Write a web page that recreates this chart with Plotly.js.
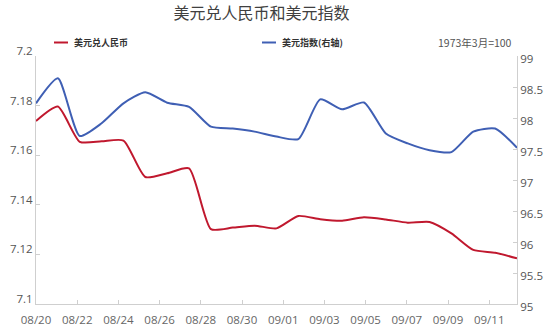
<!DOCTYPE html>
<html>
<head>
<meta charset="utf-8">
<script src="https://cdn.plot.ly/plotly-3.0.1.min.js"></script>
<style>html,body{margin:0;padding:0;background:#fff;}#chart{width:554px;height:330px;}</style>
</head>
<body>
<div id="chart"></div>
<script>
// Data (calendar days 2025-08-20 .. 2025-09-11)
const dates = ['2025-08-20','2025-08-21','2025-08-22','2025-08-23','2025-08-24','2025-08-25','2025-08-26','2025-08-27','2025-08-28','2025-08-29','2025-08-30','2025-08-31','2025-09-01','2025-09-02','2025-09-03','2025-09-04','2025-09-05','2025-09-06','2025-09-07','2025-09-08','2025-09-09','2025-09-10','2025-09-11'];
const usdcny = [7.1738,7.1796,7.1654,7.1656,7.1659,7.1512,7.1527,7.1547,7.1302,7.1308,7.1316,7.1305,7.1355,7.1342,7.1336,7.1350,7.1341,7.1328,7.1331,7.1285,7.1218,7.1207,7.1184];
const dxy = [98.237,98.64,97.71,97.915,98.237,98.415,98.247,98.18,97.86,97.83,97.78,97.70,97.66,98.30,98.14,98.25,97.75,97.59,97.48,97.45,97.78,97.83,97.52];
const xTickLabels = ['08/20','08/22','08/24','08/26','08/28','08/30','09/01','09/03','09/05','09/07','09/09','09/11'];
const yLeftTicks = [7.1,7.12,7.14,7.16,7.18,7.2];
const yLeftText = ['7.1','7.12','7.14','7.16','7.18','7.2'];
const yRightTicks = [95,95.5,96,96.5,97,97.5,98,98.5,99];
const yRightText = ['95','95.5','96','96.5','97','97.5','98','98.5','99'];
const titleText = '美元兑人民币和美元指数';
const seriesNames = ['美元兑人民币','美元指数(右轴)'];
const baseNote = '1973年3月=100';

const RED = '#c0182e', BLUE = '#3f5fb4';
const W = 554, H = 330, L = 36, R = 37, T = 56, B = 26;
const pw = W - L - R, ph = H - T - B;
const px = x => (x - L) / pw;
const py = y => (H - B - y) / ph;

// tick label positions: labels spaced 41.2px apart starting at the left edge
const t0 = new Date(dates[0] + 'T00:00:00Z').getTime();
const t1 = new Date(dates[dates.length-1] + 'T00:00:00Z').getTime();
const msPerPx = (t1 - t0) / pw;
const tickVals = xTickLabels.map((s, i) => new Date(t0 + i * 41.2 * msPerPx).toISOString());

const font = '"Open Sans", "Noto Sans CJK SC", sans-serif';

const traces = [
  {x: dates, y: usdcny, type: 'scatter', mode: 'lines', name: seriesNames[0], yaxis: 'y',
   line: {color: RED, width: 2, shape: 'spline', smoothing: 0.6}, showlegend: false, hoverinfo: 'skip'},
  {x: dates, y: dxy, type: 'scatter', mode: 'lines', name: seriesNames[1], yaxis: 'y2',
   line: {color: BLUE, width: 2, shape: 'spline', smoothing: 0.6}, showlegend: false, hoverinfo: 'skip'}
];

const layout = {
  width: W, height: H,
  margin: {l: L, r: R, t: T, b: B, pad: 0},
  paper_bgcolor: '#fff', plot_bgcolor: '#fff',
  font: {family: font, size: 11, color: '#555'},
  title: {text: titleText, x: 261.5 / W, xref: 'container', xanchor: 'center', y: 1 - 13 / H, yref: 'container', yanchor: 'middle',
          font: {family: '"Noto Sans CJK SC", sans-serif', size: 16, color: '#404040'}},
  xaxis: {type: 'date', range: [dates[0], dates[dates.length-1]], tickmode: 'array', tickvals: tickVals, ticktext: xTickLabels,
          showgrid: false, zeroline: false, showline: true, linecolor: '#cfcfcf', linewidth: 1,
          ticks: 'inside', ticklen: 4, tickcolor: '#cfcfcf', tickfont: {size: 11.5, color: '#666'}, ticklabelstandoff: 5},
  yaxis: {range: [7.1, 7.2], tickmode: 'array', tickvals: yLeftTicks, ticktext: yLeftText,
          showgrid: false, zeroline: false, showline: true, linecolor: '#cfcfcf', linewidth: 1,
          ticks: 'inside', ticklen: 4, tickcolor: '#cfcfcf', tickfont: {size: 11.5, color: '#555'}, ticklabelshift: -5},
  yaxis2: {range: [95, 99], overlaying: 'y', side: 'right', tickmode: 'array', tickvals: yRightTicks, ticktext: yRightText,
          showgrid: false, zeroline: false, showline: true, linecolor: '#cfcfcf', linewidth: 1,
          ticks: 'inside', ticklen: 4, tickcolor: '#cfcfcf', tickfont: {size: 11.5, color: '#555'}, ticklabelshift: 3},
  shapes: [
    {type: 'line', xref: 'paper', yref: 'paper', x0: px(54), x1: px(68), y0: py(42.5), y1: py(42.5), line: {color: RED, width: 2}},
    {type: 'line', xref: 'paper', yref: 'paper', x0: px(262), x1: px(276), y0: py(42.5), y1: py(42.5), line: {color: BLUE, width: 2}}
  ],
  annotations: [
    {xref: 'paper', yref: 'paper', x: px(72), y: py(42.5), xanchor: 'left', yanchor: 'middle', showarrow: false,
     text: '<b>' + seriesNames[0] + '</b>', font: {family: '"Noto Sans CJK SC", sans-serif', size: 9, color: '#333'}},
    {xref: 'paper', yref: 'paper', x: px(280), y: py(42.5), xanchor: 'left', yanchor: 'middle', showarrow: false,
     text: '<b>' + seriesNames[1] + '</b>', font: {family: '"Noto Sans CJK SC", sans-serif', size: 9, color: '#333'}},
    {xref: 'paper', yref: 'paper', x: px(514), y: py(43), xanchor: 'right', yanchor: 'middle', showarrow: false,
     text: baseNote, font: {family: '"Noto Sans CJK SC", sans-serif', size: 10.5, color: '#555'}}
  ]
};

Plotly.newPlot('chart', traces, layout, {staticPlot: true, displayModeBar: false});
</script>
</body>
</html>
